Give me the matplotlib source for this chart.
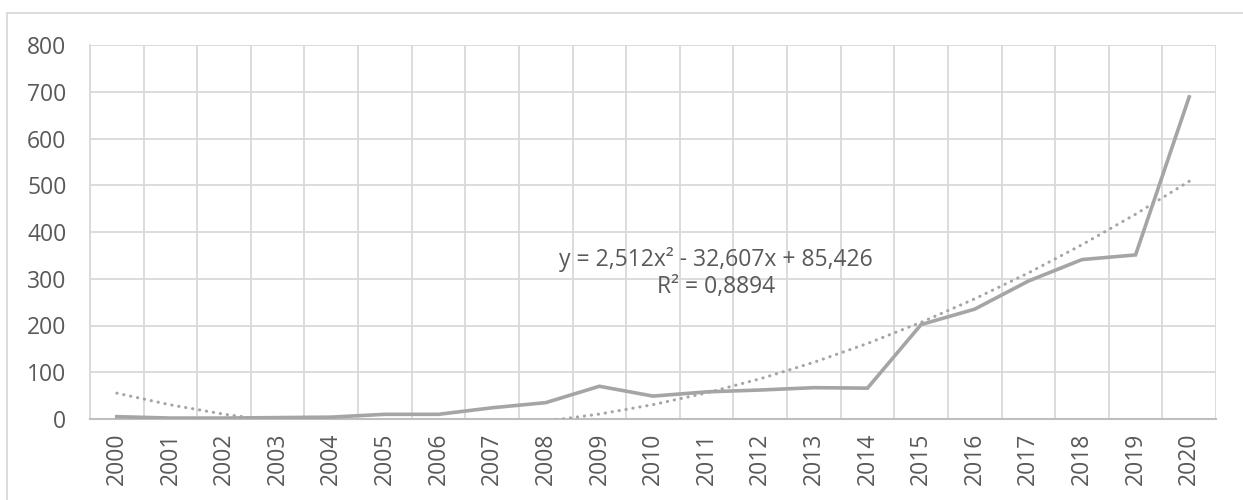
import numpy as np
import matplotlib.pyplot as plt
from matplotlib.patches import Rectangle

years = [str(y) for y in range(2000, 2021)]
values = [5, 2, 2, 3, 4, 10, 10, 24, 35, 70, 49, 58, 62, 67, 66,
          202, 235, 295, 341, 351, 689]
# trendline shown in the chart: y = 2,512x^2 - 32,607x + 85,426
trend_coef = [2.512, -32.607, 85.426]
eq_text = "y = 2,512x² - 32,607x + 85,426\nR² = 0,8894"

plt.rcParams['font.family'] = ['Open Sans', 'DejaVu Sans']

fig = plt.figure(figsize=(12.43, 5), dpi=100)
ax = fig.add_axes([90/1243, 1-419/500, (1216-90)/1243, (419-45)/500])

x = np.arange(1, len(years) + 1)
ax.plot(x, values, color='#a5a5a5', lw=2.6, solid_joinstyle='miter', zorder=3)
trend = np.polyval(trend_coef, x.astype(float))
ax.plot(x, trend, color='#a5a5a5', lw=2.2, linestyle=(0, (0.1, 2.2)),
        dash_capstyle='round', zorder=3)

ax.set_xlim(0.5, len(years) + 0.5)
ax.set_ylim(0, 800)
ax.set_yticks(range(0, 801, 100))
ax.set_xticks(x)
ax.set_xticklabels(years, rotation=90)
ax.set_xticks(np.arange(0.5, len(years) + 1, 1), minor=True)
ax.grid(False)
ax.yaxis.grid(True, color='#d9d9d9', lw=1.3)
ax.xaxis.grid(True, which='minor', color='#d9d9d9', lw=1.3)
ax.tick_params(axis='both', which='both', length=0, labelsize=16.5,
               labelcolor='#595959')
ax.tick_params(axis='y', pad=17)
ax.tick_params(axis='x', pad=10)
for s in ['top', 'right']:
    ax.spines[s].set_visible(False)
ax.spines['left'].set_color('#d9d9d9')
ax.spines['bottom'].set_color('#bfbfbf')
ax.spines['left'].set_linewidth(1.3)
ax.spines['bottom'].set_linewidth(1.5)

ax.text(12.18, 312, eq_text, ha='center', va='center', fontsize=16.5,
        color='#595959', linespacing=1.2, zorder=4)

fig.patches.append(Rectangle((7/1243, -0.1), 1.1, 1 - 13/500 + 0.1,
                             transform=fig.transFigure, fill=False,
                             edgecolor='#d9d9d9', lw=1.3))

fig.savefig('out.png', dpi=100)
